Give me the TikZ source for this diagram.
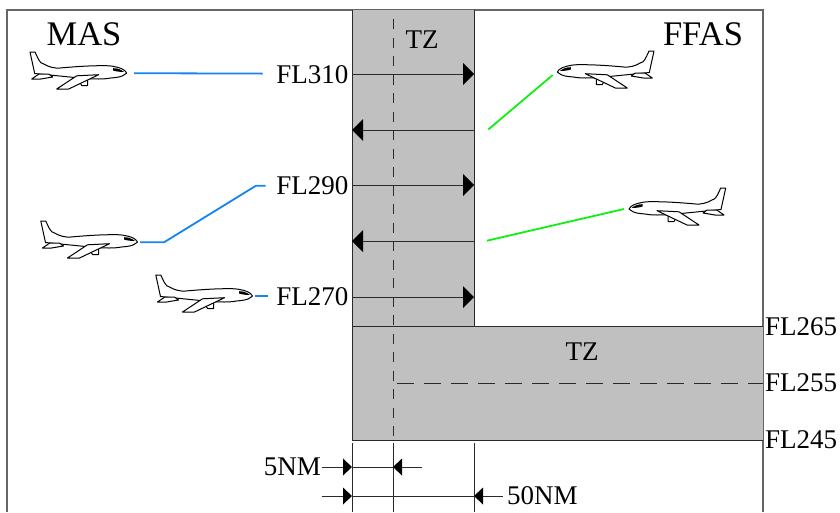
\documentclass[tikz,border=0pt]{standalone}
\usepackage{fontspec}
\setmainfont{Liberation Serif}
\usetikzlibrary{arrows.meta}
\definecolor{zonegray}{HTML}{C0C0C0}
\definecolor{framegray}{HTML}{666666}
\definecolor{inkdark}{HTML}{2A2A2A}
\definecolor{masblue}{HTML}{1484F0}
\definecolor{ffasgreen}{HTML}{10F010}
\tikzset{
  x=1pt,y=-1pt,
  lbl/.style={inner sep=0pt,font=\fontsize{27}{27}\selectfont,text=black},
  bigl/.style={inner sep=0pt,font=\fontsize{34.5}{34.5}\selectfont,text=black},
  rule/.style={draw=inkdark,line width=1pt},
  bigarrow/.style={rule,-{Triangle[length=11pt,width=22pt,color=black,fill=black,line width=0pt]}},
  smallarrow/.style={rule,-{Triangle[length=9pt,width=17pt,color=black,fill=black,line width=0pt]}},
  masline/.style={draw=masblue,line width=1.8pt},
  ffasline/.style={draw=ffasgreen,line width=1.8pt},
  planeline/.style={draw=black,line width=1pt,fill=white,line join=round},
  pics/plane/.style={code={
    \path[planeline] (-96.7,-21) -- (-91.7,-21) .. controls (-88,-13) and (-87,-10) .. (-83,-9)
      .. controls (-78,-6) and (-72,-4.5) .. (-66.7,-5) .. controls (-50,-6.5) and (-35,-7.5) .. (-20,-7.3)
      .. controls (-12,-7) and (-5,-5) .. (-2,-2.5) -- (0,0) -- (-2,1.5)
      .. controls (-5,4) and (-10,4.5) .. (-16,5) .. controls (-24,6.5) and (-32,6) .. (-42,5.5)
      -- (-92,0.5) -- cycle;
    \path[planeline] (-95,6) -- (-88,1.2) -- (-78,1) -- (-74,4) -- (-80,5) -- (-86,6) -- cycle;
    \path[planeline] (-43,6) -- (-39,7.5) -- (-39,12.5) -- (-45,12.5) -- (-47,9) -- cycle;
    \path[planeline] (-28,1.7) -- (-50,2.8) -- (-70,16) -- (-58,16) -- cycle;
    \fill[black] (-13.5,-4.8) .. controls (-9,-5) and (-5,-3) .. (-2.5,-1)
      .. controls (-6,-1) and (-11,-1.5) .. (-13.5,-2.5) -- cycle;
  }}
}
\begin{document}
\begin{tikzpicture}
\useasboundingbox (0,0) rectangle (840,512);
% frame
\draw[draw=framegray,line width=1.2pt] (7,512) -- (7,10) -- (763,10) -- (763,512);
% transition zones
\path[fill=zonegray] (352,10) rectangle (474,326);
\path[fill=zonegray] (352,326) rectangle (763,440);
\draw[rule] (352,10) -- (352,440) -- (763,440);
\draw[rule] (474,10) -- (474,326);
\draw[rule] (352,326) -- (763,326);
% flight paths
\coordinate (pathAa) at (134,73.2); \coordinate (pathAb) at (262.5,73.6);
\coordinate (m2a) at (140,242.3); \coordinate (m2b) at (164,242.3); \coordinate (m2c) at (256,185.7); \coordinate (m2d) at (265.5,185.7);
\coordinate (m3a) at (255,296); \coordinate (m3b) at (268,296);
\coordinate (g1a) at (488.3,129.5); \coordinate (g1b) at (552.7,75);
\coordinate (g2a) at (487,240.7); \coordinate (g2b) at (624,209);
\draw[masline] (m2a) -- (m2b) -- (m2c) -- (m2d);
\draw[masline] (m3a) -- (m3b);
\draw[masline] (pathAa) -- (pathAb);
\draw[ffasline] (g1a) -- (g1b);
\draw[ffasline] (g2a) -- (g2b);
% centre lines
\draw[rule,dash pattern=on 10pt off 8.5pt] (393,19) -- (393,440);
\draw[rule,dash pattern=on 17pt off 10pt] (397,383) -- (763,383);
% labels
\node[bigl] (mas) at (84,34) {MAS};
\node[bigl] (ffas) at (703,34) {FFAS};
\node[lbl] (tzv) at (422,40) {TZ};
\node[lbl] (tzh) at (582,352) {TZ};
\node[lbl,anchor=east] (f310) at (348.5,75) {FL310};
\node[lbl,anchor=east] (f290) at (348.5,186) {FL290};
\node[lbl,anchor=east] (f270) at (348.5,297) {FL270};
\node[lbl,anchor=west] (f265) at (765,327) {FL265};
\node[lbl,anchor=west] (f255) at (765,383) {FL255};
\node[lbl,anchor=west] (f245) at (765,440) {FL245};
\node[lbl,anchor=east] (n5) at (321,467) {5NM};
\node[lbl,anchor=west] (n50) at (507,496) {50NM};
% level arrows
\coordinate (l1) at (352,74); \coordinate (r1) at (474,74);
\coordinate (l2) at (352,130); \coordinate (r2) at (474,130);
\coordinate (l3) at (352,185); \coordinate (r3) at (474,185);
\coordinate (l4) at (352,241); \coordinate (r4) at (474,241);
\coordinate (l5) at (352,297); \coordinate (r5) at (474,297);
\draw[bigarrow] (l1) -- (r1);
\draw[bigarrow] (r2) -- (l2);
\draw[bigarrow] (l3) -- (r3);
\draw[bigarrow] (r4) -- (l4);
\draw[bigarrow] (l5) -- (r5);
% planes
\pic at (126.7,73) {plane};
\pic at (137.5,242) {plane};
\pic at (252.5,296) {plane};
\pic[xscale=-1] at (557.3,72) {plane};
\pic[xscale=-1] at (629,209) {plane};
% dimension ticks
\coordinate (ta) at (352,443); \coordinate (tb) at (393,443); \coordinate (tc) at (474,443);
\coordinate (ba) at (352,512); \coordinate (bb) at (393,512); \coordinate (bc) at (474,512);
\draw[rule] (ta) -- (ba);
\draw[rule] (tb) -- (bb);
\draw[rule] (tc) -- (bc);
% dimensions
\coordinate (d1a) at (352,467); \coordinate (d1b) at (393,467); \coordinate (d1c) at (422,467);
\draw[smallarrow] (n5.east) ++(1,0) -- (d1a);
\draw[rule] (d1a) -- (d1b);
\draw[smallarrow] (d1c) -- (d1b);
\coordinate (d2s) at (322,496); \coordinate (d2a) at (352,496); \coordinate (d2b) at (474,496);
\draw[smallarrow] (d2s) -- (d2a);
\draw[rule] (d2a) -- (d2b);
\draw[smallarrow] (n50.west) ++(-4,0) -- (d2b);
\end{tikzpicture}
\end{document}
